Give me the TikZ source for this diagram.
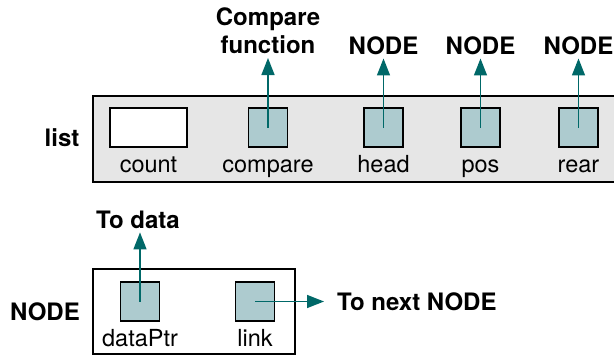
\documentclass[tikz,border=0pt]{standalone}
\usepackage{fontspec}
\setmainfont{TeX Gyre Heros}
\usetikzlibrary{arrows.meta}
\definecolor{ptrteal}{RGB}{0,104,104}
\definecolor{fieldblue}{RGB}{173,203,207}
\definecolor{boxgray}{RGB}{230,230,230}

\tikzset{
  txt/.style={font=\fontsize{23.5}{28}\selectfont, inner sep=0pt},
  btxt/.style={txt, font=\fontsize{24}{28}\selectfont\bfseries},
  field/.style={draw, line width=1.6pt, fill=fieldblue, minimum width=39pt, minimum height=39pt, inner sep=0pt},
  ptr/.style={ptrteal, line width=1.5pt, -{Triangle[length=17pt,width=13pt]}}
}

\begin{document}
\begin{tikzpicture}[x=1pt,y=-1pt]
  \useasboundingbox (0,0) rectangle (614,354);
  % list head structure
  \node[draw,line width=1.6pt,fill=boxgray,anchor=north west,minimum width=560pt,minimum height=86pt] (listbox) at (92,95) {};
  \node[btxt,anchor=base] (listlbl) at (62,146) {list};
  \node[field,fill=white,minimum width=77pt] (count) at (148.5,127.5) {};
  \node[field] (compare) at (268,127.5) {};
  \node[field] (head) at (383.5,127.5) {};
  \node[field] (pos) at (480.5,127.5) {};
  \node[field] (rear) at (578.5,127.5) {};
  \node[txt,anchor=base] (countlbl) at (148.5,172) {count};
  \node[txt,anchor=base] (comparelbl) at (268,172) {compare};
  \node[txt,anchor=base] (headlbl) at (383.5,172) {head};
  \node[txt,anchor=base] (poslbl) at (480.5,172) {pos};
  \node[txt,anchor=base] (rearlbl) at (578.5,172) {rear};
  % pointer targets
  \node[btxt,align=center,anchor=south,inner ysep=4pt] (cmpfn) at (268,58) {Compare\\function};
  \node[btxt,anchor=base,inner ysep=4pt] (headnode) at (383.5,54) {NODE};
  \node[btxt,anchor=base,inner ysep=4pt] (posnode) at (480.5,54) {NODE};
  \node[btxt,anchor=base,inner ysep=4pt] (rearnode) at (578.5,54) {NODE};
  \draw[ptr] (compare.center) -- (compare.center |- cmpfn.south);
  \foreach \f/\t in {head/headnode,pos/posnode,rear/rearnode}
    \draw[ptr] (\f.center) -- (\f.center |- \t.south);

  % node structure
  \node[draw,line width=1.6pt,anchor=north west,minimum width=202pt,minimum height=85pt] (nodebox) at (92,268) {};
  \node[btxt,anchor=base] (nodelbl) at (45,320) {NODE};
  \node[field] (dataptr) at (140,301.5) {};
  \node[field] (link) at (255,301.5) {};
  \node[txt,anchor=base] (dataptrlbl) at (140,346) {dataPtr};
  \node[txt,anchor=base] (linklbl) at (255,346) {link};
  \node[btxt,anchor=base,inner ysep=4pt] (todata) at (138,228) {To data};
  \node[btxt,anchor=base west] (tonext) at (337,310) {To next NODE};
  \draw[ptr] (dataptr.center) -- (dataptr.center |- todata.south);
  \draw[ptr,shorten >=13pt] (link.center) -- (link.center -| tonext.west);
\end{tikzpicture}
\end{document}
